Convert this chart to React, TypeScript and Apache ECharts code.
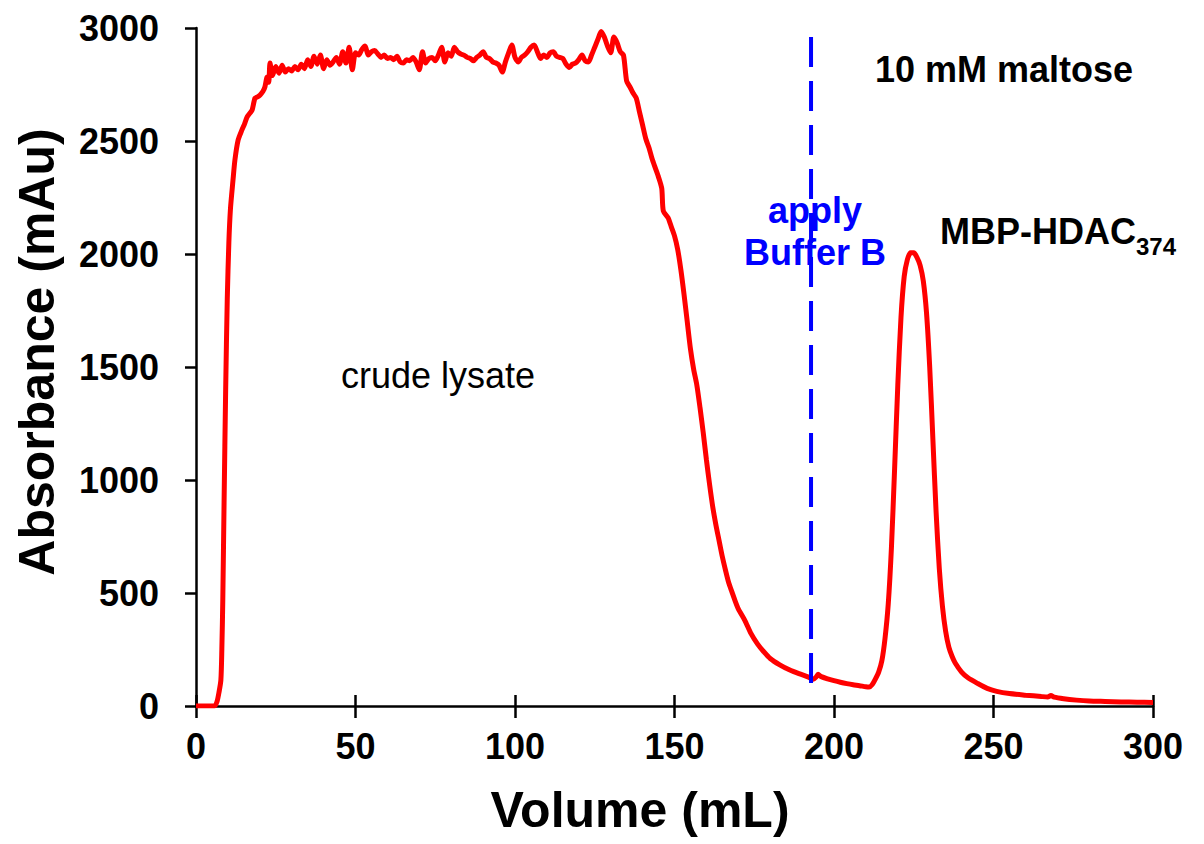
import React, { useEffect, useRef } from "react";
import * as echarts from "echarts";

// Volume (mL)
const volume = [
  0, 3, 5.8, 6.6, 7.2, 7.8, 8.1, 8.4, 8.8, 9.3, 9.8, 10.3, 10.8, 11.6, 12.2, 13.2, 14.4, 15.2, 16, 17, 17.6, 18.5, 19.3, 20.1, 21, 21.6, 22.3, 22.8, 23.2,
  24, 25, 26, 27, 28, 29, 30, 31, 32, 33, 34, 35, 36, 37, 38, 39, 40, 41, 42, 43, 44, 45, 46, 47, 48, 49, 50,
  51, 52, 53, 54, 55, 56, 57, 58, 59, 60, 61, 62, 63, 64, 65, 66, 67, 68, 69, 70, 71, 72, 73, 74, 75, 76, 77, 78, 79, 80,
  81, 82, 83, 84, 85, 86, 87, 88, 89, 90, 91, 92, 93, 94, 95, 96, 97, 98, 99, 100, 101, 102, 103, 104, 105, 106, 107, 108, 109, 110,
  111, 112, 113, 114, 115, 116, 117, 118, 119, 120, 121, 122, 123, 124, 125, 126, 127, 128, 129, 130, 131, 132, 133, 134, 135,
  136, 137, 138, 139, 140, 141, 142, 143, 144, 145, 146, 146.5, 148, 149, 150, 151, 152, 153, 154, 155, 156, 157, 158, 159, 160,
  161, 162, 163, 164, 165, 166, 167, 168, 169, 170, 172, 174, 176, 178, 180, 183, 186, 189, 192, 193.5, 194.5, 195, 196, 198, 200,
  202, 204, 206, 208, 210, 211, 212, 213, 214, 215, 216, 217, 218, 219, 220, 221, 222, 223, 224, 225, 226, 227, 228, 229, 230,
  231, 232, 233, 234, 235, 236, 237, 238, 240, 242, 245, 248, 251, 255, 260, 265, 267, 268, 269, 272, 276, 280, 285, 290, 295, 300,
];

// Absorbance (mAu)
const absorbance = [
  0, 0, 0, 20, 60, 115, 250, 470, 900, 1400, 1800, 2050, 2200, 2327, 2416, 2504, 2549, 2575, 2606, 2625, 2637, 2690, 2695, 2704, 2720, 2739, 2783, 2760, 2845,
  2790, 2830, 2800, 2835, 2805, 2820, 2810, 2830, 2815, 2840, 2820, 2860, 2830, 2875, 2840, 2880, 2820, 2860, 2835, 2850, 2870, 2840, 2895, 2845, 2915, 2815, 2890,
  2880, 2905, 2920, 2880, 2895, 2900, 2885, 2870, 2880, 2865, 2870, 2860, 2875, 2850, 2845, 2860, 2855, 2870, 2850, 2815, 2895, 2845, 2865, 2870, 2855, 2880, 2915, 2850, 2890, 2875,
  2915, 2895, 2885, 2880, 2870, 2865, 2855, 2870, 2880, 2895, 2870, 2865, 2850, 2845, 2835, 2805, 2850, 2890, 2925, 2870, 2850, 2870, 2880, 2895, 2915, 2925, 2895, 2865, 2880, 2870,
  2890, 2895, 2875, 2870, 2865, 2840, 2825, 2840, 2845, 2860, 2880, 2855, 2850, 2880, 2915, 2950, 2985, 2960, 2920, 2890, 2960, 2935, 2895, 2880, 2765,
  2740, 2712, 2690, 2630, 2570, 2510, 2470, 2420, 2380, 2340, 2290, 2190, 2160, 2120, 2080, 2020, 1930, 1820, 1700, 1580, 1490, 1420, 1320, 1210, 1090,
  980, 880, 800, 730, 660, 600, 545, 505, 465, 430, 380, 320, 275, 240, 210, 182, 160, 143, 128, 118, 130, 140, 130, 120, 112,
  105, 99, 94, 90, 85, 84, 95, 120, 150, 200, 300, 450, 700, 1050, 1420, 1720, 1900, 1975, 2005, 2005, 1985, 1950, 1880, 1740, 1500,
  1180, 860, 610, 440, 330, 260, 220, 190, 150, 125, 100, 78, 65, 55, 48, 42, 40, 46, 39, 32, 26, 22, 20, 18, 17, 16,
];

const xTicks = { min: 0, max: 300, interval: 50 };
const yTicks = { min: 0, max: 3000, interval: 500 };

// "apply Buffer B" marker (drawn from top to bottom)
const bufferVolume = 192.8;
const bufferLineSpan = [2960, 40];

const FONT = "'Liberation Sans', Arial, Helvetica, sans-serif";

export default function App() {
  const ref = useRef<HTMLDivElement>(null);
  useEffect(() => {
    if (!ref.current) return;
    const chart = echarts.init(ref.current, null, { renderer: "svg" });
    const trace = volume.map((v, i) => [v, absorbance[i]]);
    const marker = bufferLineSpan.map((a) => [bufferVolume, a]);
    chart.setOption({
      animation: false,
      backgroundColor: "#ffffff",
      grid: { left: 196, top: 28, width: 957, height: 678, containLabel: false, outerBoundsMode: "none" },
      xAxis: [
        {
          type: "value",
          min: xTicks.min,
          max: xTicks.max,
          interval: xTicks.interval,
          axisLine: { lineStyle: { color: "#000", width: 2.5 } },
          axisTick: { show: true, length: 12, lineStyle: { color: "#000", width: 2.5 } },
          axisLabel: { margin: 22, fontFamily: FONT, fontWeight: "bold", fontSize: 36, color: "#000", formatter: (v: number) => String(v) },
          splitLine: { show: false },
        },
        {
          type: "value",
          position: "bottom",
          min: xTicks.min,
          max: xTicks.max,
          interval: xTicks.interval,
          axisLine: { show: false },
          axisTick: { show: true, inside: true, length: 11, lineStyle: { color: "#000", width: 2.5 } },
          axisLabel: { show: false },
          splitLine: { show: false },
        },
      ],
      yAxis: {
        type: "value",
        min: yTicks.min,
        max: yTicks.max,
        interval: yTicks.interval,
        axisLine: { show: true, lineStyle: { color: "#000", width: 2.5 } },
        axisTick: { show: true, length: 11, lineStyle: { color: "#000", width: 2.5 } },
        axisLabel: { margin: 37, fontFamily: FONT, fontWeight: "bold", fontSize: 36, color: "#000", formatter: (v: number) => String(v) },
        splitLine: { show: false },
      },
      series: [
        {
          type: "line",
          data: trace,
          showSymbol: false,
          smooth: 0.25,
          lineStyle: { color: "#ff0000", width: 5 },
          z: 2,
        },
        {
          type: "line",
          data: marker,
          showSymbol: false,
          lineStyle: { color: "#0000ff", width: 4, type: [30, 14] },
          z: 3,
        },
      ],
      graphic: [
        { type: "text", x: 640, y: 810, style: { text: "Volume (mL)", font: `bold 50px ${FONT}`, fill: "#000", align: "center", verticalAlign: "middle" } },
        { type: "text", x: 37, y: 352, rotation: Math.PI / 2, style: { text: "Absorbance (mAu)", font: `bold 50px ${FONT}`, fill: "#000", align: "center", verticalAlign: "middle" } },
        { type: "text", x: 1004, y: 69, style: { text: "10 mM maltose", font: `bold 36px ${FONT}`, fill: "#000", align: "center", verticalAlign: "middle" } },
        { type: "text", x: 438, y: 375, style: { text: "crude lysate", font: `36px ${FONT}`, fill: "#000", align: "center", verticalAlign: "middle" } },
        { type: "text", x: 815, y: 210, style: { text: "apply", font: `bold 36px ${FONT}`, fill: "#0000ff", align: "center", verticalAlign: "middle" } },
        { type: "text", x: 815, y: 252, style: { text: "Buffer B", font: `bold 36px ${FONT}`, fill: "#0000ff", align: "center", verticalAlign: "middle" } },
        { type: "text", x: 940, y: 231, style: { text: "MBP-HDAC", font: `bold 36px ${FONT}`, fill: "#000", align: "left", verticalAlign: "middle" } },
        { type: "text", x: 1136, y: 246, style: { text: "374", font: `bold 24px ${FONT}`, fill: "#000", align: "left", verticalAlign: "middle" } },
      ],
    });
    return () => chart.dispose();
  }, []);
  return (
    <div
      ref={ref}
      style={{ position: "fixed", left: 0, top: 0, width: 1204, height: 844, background: "#fff" }}
    />
  );
}
